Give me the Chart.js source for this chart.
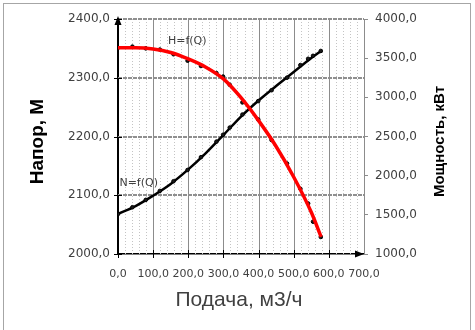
<!DOCTYPE html>
<html>
<head>
<meta charset="utf-8">
<script src="https://cdn.jsdelivr.net/npm/chart.js@4/dist/chart.umd.min.js"></script>
<style>
  html, body { margin: 0; padding: 0; background: #ffffff; }
  #wrap { position: relative; width: 475px; height: 330px; }
</style>
</head>
<body>
<div id="wrap"><canvas id="c" width="475" height="330"></canvas></div>
<script>
// Measured points: flow Q (м3/ч), head H (м), power N (кВт)
const flowQ = [0, 41, 79, 119, 158, 198, 236, 280, 299, 318, 354, 399, 437, 481, 519, 541, 555, 577];
const headH = [2351, 2353, 2350, 2348, 2340, 2329, 2320, 2308, 2302, 2288, 2258, 2229, 2194, 2154, 2111, 2086, 2055, 2029];
const powerN = [1510, 1597, 1691, 1805, 1929, 2073, 2236, 2434, 2522, 2614, 2780, 2952, 3091, 3251, 3412, 3492, 3530, 3592];

// Smoothed characteristic curves through the measurements
const curveQ = [0, 50, 100, 150, 200, 250, 300, 350, 400, 450, 500, 550, 578];
const curveH = [2351, 2351, 2349, 2343, 2332, 2318, 2298, 2266, 2227, 2183, 2131, 2071, 2029];
const curveN = [1511, 1612, 1745, 1895, 2080, 2289, 2519, 2755, 2960, 3145, 3323, 3502, 3592];

const headTicks = [2000, 2100, 2200, 2300, 2400];
const powerTicks = [1000, 1500, 2000, 2500, 3000, 3500, 4000];
const flowTicks = [0, 100, 200, 300, 400, 500, 600, 700];

const titleFlow = 'Подача, м3/ч';
const titleHead = 'Напор, М';
const titlePower = 'Мощность, кВт';
const labelH = 'H=f(Q)';
const labelN = 'N=f(Q)';

const fmt = v => Number(v).toFixed(1).replace('.', ',');
const tickFontX = { family: 'DejaVu Sans', size: 11 };
const tickFontY = { family: 'DejaVu Sans', size: 12 };

const pts = (xs, ys) => xs.map((x, i) => ({ x, y: ys[i] }));

// grid, axis ticks, arrows drawn under the curves
const gridPlugin = {
  id: 'gridPlugin',
  beforeDatasetsDraw(chart) {
    const { ctx, chartArea: a, scales } = chart;
    const x = scales.x, y = scales.y;
    ctx.save();
    // minor vertical dotted lines every 20
    ctx.strokeStyle = '#c4c4c4';
    ctx.lineWidth = 1;
    ctx.setLineDash([1, 2]);
    for (let q = 20; q < 700; q += 20) {
      if (q % 100 === 0) continue;
      const px = Math.round(x.getPixelForValue(q)) + 0.5;
      ctx.beginPath(); ctx.moveTo(px, a.top); ctx.lineTo(px, a.bottom); ctx.stroke();
    }
    ctx.setLineDash([]);
    // major vertical lines
    ctx.strokeStyle = '#8c8c8c';
    flowTicks.forEach(q => {
      if (q === 0) return;
      const px = Math.round(x.getPixelForValue(q)) + 0.5;
      ctx.beginPath(); ctx.moveTo(px, a.top); ctx.lineTo(px, a.bottom); ctx.stroke();
    });
    // major horizontal lines
    ctx.strokeStyle = '#8f8f8f';
    ctx.lineWidth = 2;
    ctx.setLineDash([4, 1]);
    headTicks.forEach(h => {
      if (h === 2000) return;
      const py = Math.round(y.getPixelForValue(h));
      ctx.beginPath(); ctx.moveTo(a.left, py); ctx.lineTo(a.right, py); ctx.stroke();
    });
    ctx.setLineDash([]);
    // crossing tick marks on the main axes
    ctx.strokeStyle = '#000';
    ctx.lineWidth = 1;
    flowTicks.forEach(q => {
      if (q === 700) return;
      const px = Math.round(x.getPixelForValue(q)) + 0.5;
      ctx.beginPath(); ctx.moveTo(px, a.bottom - 4); ctx.lineTo(px, a.bottom + 4); ctx.stroke();
    });
    headTicks.forEach(h => {
      const py = Math.round(y.getPixelForValue(h)) + 0.5;
      ctx.beginPath(); ctx.moveTo(a.left - 4, py); ctx.lineTo(a.left + 4, py); ctx.stroke();
    });
    // axis arrows
    ctx.fillStyle = '#000';
    const ax = x.getPixelForValue(0);
    ctx.beginPath();
    ctx.moveTo(ax, a.top - 3); ctx.lineTo(ax - 3.5, a.top + 6); ctx.lineTo(ax + 3.5, a.top + 6); ctx.closePath(); ctx.fill();
    const ay = y.getPixelForValue(2000);
    const ex = x.getPixelForValue(700);
    ctx.beginPath();
    ctx.moveTo(ex, ay); ctx.lineTo(ex - 9, ay - 3.5); ctx.lineTo(ex - 9, ay + 3.5); ctx.closePath(); ctx.fill();
    ctx.restore();
  },
  afterDraw(chart) {
    const { ctx, chartArea: a, scales } = chart;
    const x = scales.x, y = scales.y;
    ctx.save();
    // frame
    ctx.strokeStyle = '#a6a6a6';
    ctx.lineWidth = 1;
    ctx.strokeRect(3.5, 3.5, 467, 400);
    // curve labels
    ctx.font = '11px "DejaVu Sans"';
    ctx.fillStyle = '#404040';
    ctx.textBaseline = 'middle';
    ctx.textAlign = 'left';
    ctx.fillText(labelH, x.getPixelForValue(142), y.getPixelForValue(2362));
    ctx.fillText(labelN, x.getPixelForValue(4), y.getPixelForValue(2121));
    // axis titles
    ctx.textAlign = 'center';
    ctx.fillStyle = '#404040';
    ctx.font = '21px "Liberation Sans"';
    ctx.fillText(titleFlow, (a.left + a.right) / 2 - 2, 300);
    ctx.fillStyle = '#000';
    ctx.font = 'bold 19px "Liberation Sans"';
    ctx.save();
    ctx.translate(38, (a.top + a.bottom) / 2 + 5);
    ctx.rotate(-Math.PI / 2);
    ctx.fillText(titleHead, 0, 0);
    ctx.restore();
    ctx.font = 'bold 15px "Liberation Sans"';
    ctx.save();
    ctx.translate(440, (a.top + a.bottom) / 2 + 5);
    ctx.rotate(-Math.PI / 2);
    ctx.fillText(titlePower, 0, 0);
    ctx.restore();
    ctx.restore();
  }
};

const lineSet = (label, data, axis, color, width, order) => ({
  label, data, yAxisID: axis, borderColor: color, borderWidth: width,
  pointRadius: 0, cubicInterpolationMode: 'monotone', order
});
const markSet = (label, data, axis, order) => ({
  label, data, yAxisID: axis, showLine: false, pointRadius: 1.8,
  pointBackgroundColor: '#1a1a1a', pointBorderColor: '#000000', pointBorderWidth: 1, order
});

new Chart(document.getElementById('c'), {
  type: 'line',
  data: {
    datasets: [
      lineSet(labelN, pts(curveQ, curveN), 'y2', '#000000', 2.5, 4),
      markSet(labelN, pts(flowQ, powerN), 'y2', 3),
      markSet(labelH, pts(flowQ, headH), 'y', 2),
      lineSet(labelH, pts(curveQ, curveH), 'y', '#ff0000', 3.5, 1)
    ]
  },
  options: {
    responsive: false,
    animation: false,
    events: [],
    layout: { padding: { top: 19, left: 0, right: 0, bottom: 0 } },
    plugins: { legend: { display: false }, tooltip: { enabled: false } },
    scales: {
      x: {
        type: 'linear',
        min: 0, max: 700,
        afterBuildTicks: s => { s.ticks = flowTicks.map(v => ({ value: v })); },
        afterFit: s => { s.height = 76; },
        grid: { drawOnChartArea: false, drawTicks: false },
        border: { color: '#000', width: 1.5 },
        ticks: { font: tickFontX, color: '#404040', padding: 14, autoSkip: false, maxRotation: 0, callback: v => fmt(v) }
      },
      y: {
        type: 'linear',
        position: 'left',
        min: 2000, max: 2400,
        afterBuildTicks: s => { s.ticks = headTicks.map(v => ({ value: v })); },
        afterFit: s => { s.width = 118; },
        grid: { drawOnChartArea: false, drawTicks: false },
        border: { color: '#000', width: 2 },
        ticks: { font: tickFontY, color: '#404040', padding: 8, callback: v => fmt(v) }
      },
      y2: {
        type: 'linear',
        position: 'right',
        min: 1000, max: 4000,
        afterBuildTicks: s => { s.ticks = powerTicks.map(v => ({ value: v })); },
        afterFit: s => { s.width = 111; },
        grid: { drawOnChartArea: false, drawTicks: true, tickLength: 4, color: '#8c8c8c' },
        border: { color: '#8c8c8c', width: 1 },
        ticks: { font: tickFontY, color: '#404040', padding: 7, callback: v => fmt(v) }
      }
    }
  },
  plugins: [gridPlugin]
});
</script>
</body>
</html>
